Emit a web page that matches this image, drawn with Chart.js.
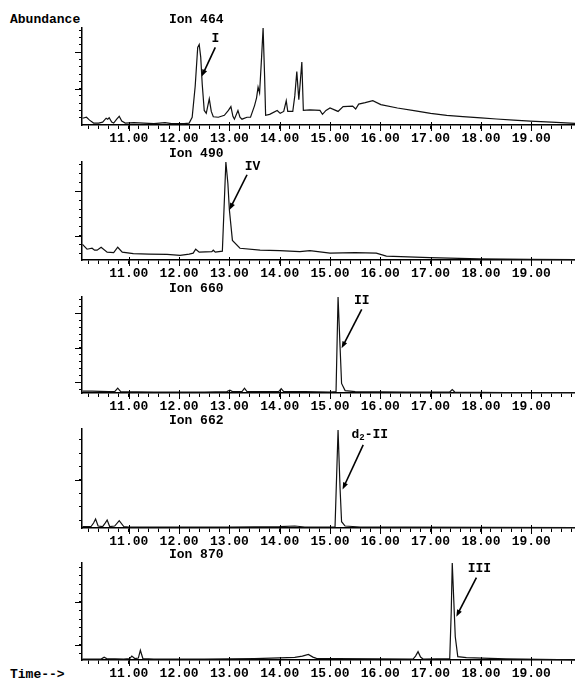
<!DOCTYPE html>
<html>
<head>
<meta charset="utf-8">
<script src="https://cdn.jsdelivr.net/npm/chart.js@4.4.0/dist/chart.umd.min.js"></script>
<style>
html, body { margin: 0; padding: 0; background: #fff; }
#wrap { position: relative; width: 575px; height: 682px; overflow: hidden; }
#wrap canvas { position: absolute; left: 0; }
.lbl { position: absolute; font: bold 13px "Liberation Mono", monospace; color: #000; white-space: pre; line-height: 15px; }
</style>
</head>
<body>
<div id="wrap">
	<div class="lbl" style="left:10px;top:12px">Abundance</div>
	<div class="lbl" style="left:10px;top:667px">Time--&gt;</div>
</div>
<script>
// retention time (min) and relative abundance
var ion464Time  = [10.08,10.16,10.22,10.30,10.40,10.48,10.55,10.58,10.61,10.66,10.70,10.76,10.81,10.86,10.93,11.10,11.30,11.50,11.72,11.85,12.10,12.20,12.26,12.32,12.37,12.40,12.43,12.46,12.50,12.54,12.60,12.64,12.68,12.78,12.90,12.98,13.03,13.07,13.10,13.17,13.21,13.25,13.35,13.42,13.50,13.54,13.57,13.60,13.64,13.67,13.70,13.72,13.80,13.95,14.01,14.08,14.13,14.16,14.26,14.30,14.34,14.38,14.41,14.44,14.47,14.60,14.80,14.85,14.92,15.00,15.16,15.26,15.45,15.51,15.57,15.70,15.85,16.01,16.34,16.70,17.00,17.32,17.64,18.00,18.31,18.65,18.98,19.40,19.90];
var ion464Abund = [7,8,5,2,2,3,7,6,7.5,3,2,6,9,4,2,2.5,2,1.5,2.5,1.5,1.5,2,8,40,80,83,70,42,15,12,27,14,8.5,8,10,15,19,9,6,15,8,6,8,8,20,28,39,33,70,100,50,10,11,15,12,14,25,14,14,30,55,26,45,65,15,15.5,15,11,15,17.5,14,19,19.5,16.5,21.5,23,25,21,17.5,14.5,12,10,8.6,7.3,6.2,5,4,3,1.7];

var ion490Time  = [10.08,10.17,10.27,10.32,10.37,10.45,10.57,10.70,10.78,10.87,11.09,11.40,11.76,12.02,12.20,12.28,12.33,12.40,12.65,12.68,12.72,12.86,12.89,12.93,12.97,13.00,13.06,13.21,13.61,14.00,14.40,14.60,15.00,15.50,15.92,16.12,16.98,17.97,18.96,19.90];
var ion490Abund = [16,11,12,10,10,13,8,7.5,13,8,6.5,6,5.8,4.8,6,7,11,8,8.5,10,8,9,48,100,78,51,20,12,10,9.5,8.5,9.5,7,7.5,7,4,2.4,1.2,0.6,0.3];

var ion660Time  = [10.08,10.27,10.60,10.72,10.78,10.84,11.50,12.50,12.95,13.01,13.06,13.25,13.30,13.35,13.98,14.03,14.08,14.50,15.00,15.12,15.16,15.20,15.23,15.30,15.50,16.50,17.38,17.43,17.48,18.50,19.90];
var ion660Abund = [2,2,1.5,1.5,5,1.5,1,1,1.5,3,1.5,1.5,5,1.5,1.5,4.5,1.5,1.5,1,1.5,100,48,10,2.5,1.5,1,1,3.5,1,0.5,0.5];

var ion662Time  = [10.08,10.25,10.30,10.34,10.39,10.48,10.53,10.57,10.62,10.72,10.81,10.90,11.00,12.00,13.00,14.00,14.30,14.50,15.10,15.16,15.20,15.23,15.30,15.60,16.50,19.90];
var ion662Abund = [1.5,1.5,5,9,2,1.5,5,8,1.5,2,7.4,1.5,1,1,1,1.3,2,1,1.2,99,40,6.4,2,1,0.8,0.5];

var ion870Time  = [10.08,10.45,10.51,10.56,10.90,11.02,11.06,11.12,11.19,11.23,11.28,11.50,12.50,13.50,14.00,14.30,14.45,14.57,14.66,14.73,15.13,16.00,16.65,16.70,16.75,16.80,16.85,17.38,17.41,17.43,17.46,17.49,17.54,17.71,18.50,19.90];
var ion870Abund = [1,1,2.8,1.5,1,1.5,4,1.5,2,10,1.5,1,1,1.5,2.2,2.7,4,5.8,3,1.7,1.5,1.2,1,4,8.6,3,1,1.5,50,100,62,24,3.5,2.4,1.2,0];

// time axis: labelled every minute, minor ticks every 0.2 min
var xMajor = [11, 12, 13, 14, 15, 16, 17, 18, 19];
var xTickValues = [];
for (var i = 0; i < 49; i++) xTickValues.push(Math.round((10.2 + i * 0.2) * 10) / 10);

// abundance ticks (no labels on the original)
var y464Ticks = [7.5,15,22.5,30,37.5,45,52.5,60,67.5,75,82.5,90,97.5], y464Major = [37.5, 75];
var y490Ticks = [7,16,25,34,43,52,61,70,79,88,97], y490Major = [25, 70];
var y660Ticks = [3.8,11,18.2,25.4,32.6,39.8,47,54.2,61.4,68.6,75.8,83,90.2,97.4], y660Major = [11, 47, 83];
var y662Ticks = [8,21.5,35,48.5,62,75.5,89], y662Major = [48.5];
var y870Ticks = [6.6,15.5,24.4,33.3,42.2,51.1,60,68.9,77.8,86.7,95.6], y870Major = [15.5, 60];

var panels = [
	{ title: 'Ion 464', time: ion464Time, abund: ion464Abund, yTicks: y464Ticks, yMajor: y464Major, top: 28, bottom: 125,
	  note: { text: [['I']], lx: 12.72, ly: 89, tx: 12.72, ty: 80, hx: 12.45, hy: 50 } },
	{ title: 'Ion 490', time: ion490Time, abund: ion490Abund, yTicks: y490Ticks, yMajor: y490Major, top: 162, bottom: 260,
	  note: { text: [['IV']], lx: 13.46, ly: 95, tx: 13.35, ty: 87, hx: 13.00, hy: 51 } },
	{ title: 'Ion 660', time: ion660Time, abund: ion660Abund, yTicks: y660Ticks, yMajor: y660Major, top: 297, bottom: 393,
	  note: { text: [['II']], lx: 15.63, ly: 96, tx: 15.63, ty: 87, hx: 15.23, hy: 46.5 } },
	{ title: 'Ion 662', time: ion662Time, abund: ion662Abund, yTicks: y662Ticks, yMajor: y662Major, top: 429, bottom: 528,
	  note: { text: [['d'], ['2', 'sub'], ['-II']], lx: 15.79, ly: 94, tx: 15.66, ty: 84, hx: 15.25, hy: 39 } },
	{ title: 'Ion 870', time: ion870Time, abund: ion870Abund, yTicks: y870Ticks, yMajor: y870Major, top: 563, bottom: 660,
	  note: { text: [['III']], lx: 17.97, ly: 94.5, tx: 17.91, ty: 85, hx: 17.51, hy: 44.6 } }
];

var MONO = '"Liberation Mono", "DejaVu Sans Mono", monospace';

function seg(ctx, x1, y1, x2, y2) {
	ctx.beginPath();
	ctx.moveTo(x1, y1);
	ctx.lineTo(x2, y2);
	ctx.stroke();
}

var chromPlugin = {
	id: 'chrom',
	afterDraw: function(chart, args, opts) {
		var ctx = chart.ctx, xs = chart.scales.x, ys = chart.scales.y, area = chart.chartArea;
		ctx.save();
		ctx.strokeStyle = '#000';
		ctx.fillStyle = '#000';
		ctx.lineWidth = 1;
		// longer major ticks
		xMajor.forEach(function(v) {
			var px = Math.round(xs.getPixelForValue(v)) + 0.5;
			seg(ctx, px, area.bottom - 3, px, area.bottom + 6);
		});
		opts.yMajor.forEach(function(v) {
			var py = Math.round(ys.getPixelForValue(v)) + 0.5;
			seg(ctx, area.left - 7, py, area.left, py);
		});
		// panel title
		ctx.font = 'bold 13px ' + MONO;
		ctx.textAlign = 'center';
		ctx.textBaseline = 'middle';
		ctx.fillText(opts.title, xs.getPixelForValue(12.34), area.top - 8);
		// compound label
		var n = opts.note;
		var parts = n.text.map(function(p) {
			var f = p[1] === 'sub' ? 'bold 9px ' + MONO : 'bold 13px ' + MONO;
			ctx.font = f;
			return { s: p[0], f: f, w: ctx.measureText(p[0]).width, sub: p[1] === 'sub' };
		});
		var total = parts.reduce(function(a, p) { return a + p.w; }, 0);
		var cx = xs.getPixelForValue(n.lx) - total / 2, cy = ys.getPixelForValue(n.ly);
		ctx.textAlign = 'left';
		parts.forEach(function(p) {
			ctx.font = p.f;
			ctx.fillText(p.s, cx, cy + (p.sub ? 3 : 0));
			cx += p.w;
		});
		// arrow
		var x1 = xs.getPixelForValue(n.tx), y1 = ys.getPixelForValue(n.ty);
		var x2 = xs.getPixelForValue(n.hx), y2 = ys.getPixelForValue(n.hy);
		var ang = Math.atan2(y2 - y1, x2 - x1);
		ctx.lineWidth = 1.6;
		seg(ctx, x1, y1, x2 - 4 * Math.cos(ang), y2 - 4 * Math.sin(ang));
		ctx.beginPath();
		ctx.moveTo(x2, y2);
		ctx.lineTo(x2 - 7 * Math.cos(ang) + 2.6 * Math.sin(ang), y2 - 7 * Math.sin(ang) - 2.6 * Math.cos(ang));
		ctx.lineTo(x2 - 7 * Math.cos(ang) - 2.6 * Math.sin(ang), y2 - 7 * Math.sin(ang) + 2.6 * Math.cos(ang));
		ctx.closePath();
		ctx.fill();
		ctx.restore();
	}
};

var wrap = document.getElementById('wrap');

panels.forEach(function(p) {
	var cv = document.createElement('canvas');
	cv.width = 575;
	cv.height = (p.bottom - p.top) + 30 + 22;
	cv.style.top = (p.top - 30) + 'px';
	wrap.appendChild(cv);

	new Chart(cv, {
		type: 'line',
		data: {
			datasets: [{
				data: p.time.map(function(t, i) { return { x: t, y: p.abund[i] }; }),
				borderColor: '#111',
				borderWidth: 1.2,
				pointRadius: 0,
				tension: 0,
				fill: false,
				clip: 3
			}]
		},
		options: {
			responsive: false,
			animation: false,
			events: [],
			layout: { padding: { top: 30, left: 74, right: 0, bottom: 0 } },
			plugins: {
				legend: { display: false },
				tooltip: { enabled: false },
				chrom: { title: p.title, yMajor: p.yMajor, note: p.note }
			},
			scales: {
				x: {
					type: 'linear',
					min: 10.07,
					max: 19.87,
					afterBuildTicks: function(s) { s.ticks = xTickValues.map(function(v) { return { value: v }; }); },
					afterFit: function(s) { s.height = 22; },
					ticks: {
						autoSkip: false,
						maxRotation: 0,
						minRotation: 0,
						padding: 2,
						color: '#000',
						font: { family: MONO, weight: 'bold', size: 13 },
						callback: function(v) { return xMajor.indexOf(Math.round(v * 10) / 10) >= 0 ? v.toFixed(2) : ''; }
					},
					grid: { drawOnChartArea: false, tickLength: 4, color: '#000' },
					border: { color: '#000', width: 1.5 }
				},
				y: {
					min: 0,
					max: 100,
					afterBuildTicks: function(s) { s.ticks = p.yTicks.map(function(v) { return { value: v }; }); },
					afterFit: function(s) { s.width = 8; },
					ticks: { display: false },
					grid: { drawOnChartArea: false, tickLength: 3, color: '#000' },
					border: { color: '#000', width: 1.5 }
				}
			}
		},
		plugins: [chromPlugin]
	});
});
</script>
</body>
</html>
